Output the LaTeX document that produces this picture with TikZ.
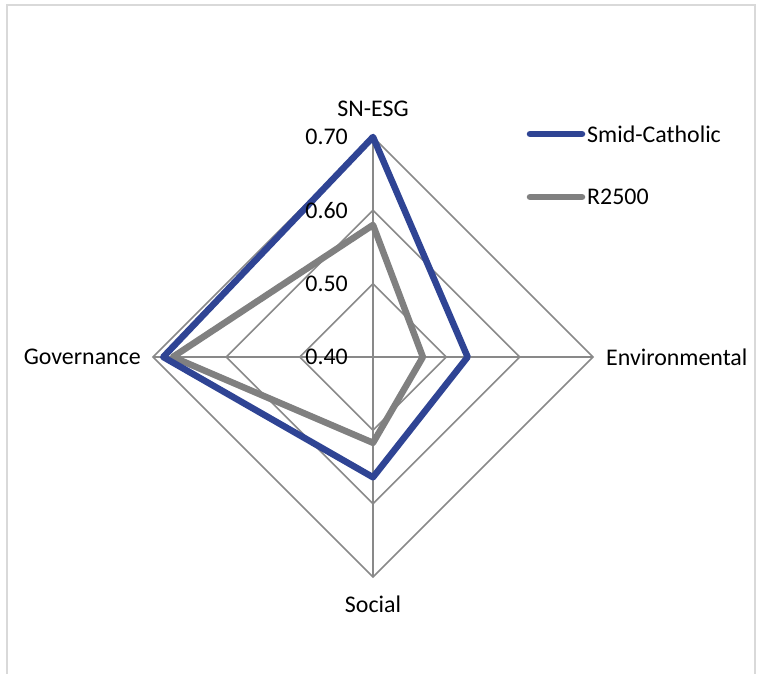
\documentclass[tikz,border=0pt]{standalone}
\usepackage{fontspec}
\setmainfont{Carlito}
\usetikzlibrary{calc}
\definecolor{gridc}{HTML}{898989}
\definecolor{framec}{HTML}{D9D9D9}
\definecolor{blueser}{HTML}{2F4494}
\definecolor{grayser}{HTML}{808080}
\begin{document}
\begin{tikzpicture}[x=1bp,y=-1bp,
  gridline/.style={draw=gridc,line width=1.6bp},
  serA/.style={draw=blueser,line width=6.5bp,line join=round,line cap=round},
  serB/.style={draw=grayser,line width=6.5bp,line join=round,line cap=round},
  lbl/.style={font=\fontsize{24}{26}\selectfont,text=black,inner sep=0pt},
  ]
\useasboundingbox (0,0) rectangle (762,674);
\fill[white] (0,0) rectangle (762,674);
% frame
\draw[framec,line width=2bp] (6.5,674) -- (6.5,4.7) -- (755,4.7) -- (755,674);
% centre and scale
\coordinate (O) at (373,357);
\def\R{220}
% grid rings
\foreach \v in {0.50,0.60,0.70}{
  \pgfmathsetmacro{\r}{(\v-0.4)/0.3*\R}
  \draw[gridline] ($(O)+(0,-\r)$) -- ($(O)+(\r,0)$) -- ($(O)+(0,\r)$) -- ($(O)+(-\r,0)$) -- cycle;
}
% axes
\coordinate (Ntop) at ($(O)+(0,-\R)$);
\coordinate (Nright) at ($(O)+(\R,0)$);
\coordinate (Nbot) at ($(O)+(0,\R)$);
\coordinate (Nleft) at ($(O)+(-\R,0)$);
\draw[gridline] (O) -- (Ntop);
\draw[gridline] (O) -- (Nright);
\draw[gridline] (O) -- (Nbot);
\draw[gridline] (O) -- (Nleft);
% series R2500
\pgfmathsetmacro{\bt}{(0.58-0.4)/0.3*\R}
\pgfmathsetmacro{\br}{(0.468-0.4)/0.3*\R}
\pgfmathsetmacro{\bb}{(0.517-0.4)/0.3*\R}
\pgfmathsetmacro{\bl}{(0.673-0.4)/0.3*\R}
\coordinate (b1) at ($(O)+(0,-\bt)$);
\coordinate (b2) at ($(O)+(\br,0)$);
\coordinate (b3) at ($(O)+(0,\bb)$);
\coordinate (b4) at ($(O)+(-\bl,0)$);
\draw[serB] (b1) -- (b2) -- (b3) -- (b4) -- cycle;
% series Smid-Catholic
\pgfmathsetmacro{\at}{(0.70-0.4)/0.3*\R}
\pgfmathsetmacro{\ar}{(0.529-0.4)/0.3*\R}
\pgfmathsetmacro{\ab}{(0.564-0.4)/0.3*\R}
\pgfmathsetmacro{\al}{(0.686-0.4)/0.3*\R}
\coordinate (a1) at ($(O)+(0,-\at)$);
\coordinate (a2) at ($(O)+(\ar,0)$);
\coordinate (a3) at ($(O)+(0,\ab)$);
\coordinate (a4) at ($(O)+(-\al,0)$);
\draw[serA] (a1) -- (a2) -- (a3) -- (a4) -- cycle;
% tick labels
\node[lbl,anchor=east] (t70) at (348,137) {0.70};
\node[lbl,anchor=east] (t60) at (348,211) {0.60};
\node[lbl,anchor=east] (t50) at (348,284) {0.50};
\node[lbl,anchor=east] (t40) at (348,357) {0.40};
% category labels
\node[lbl] (cN) at (373,109) {SN-ESG};
\node[lbl,anchor=west] (cE) at (606,357) {Environmental};
\node[lbl] (cS) at (373,604) {Social};
\node[lbl,anchor=east] (cW) at (141,357) {Governance};
% legend
\coordinate (la1) at (530,134);
\coordinate (la2) at (582,134);
\coordinate (lb1) at (530,197);
\coordinate (lb2) at (582,197);
\draw[serA] (la1) -- (la2);
\draw[serB] (lb1) -- (lb2);
\node[lbl,anchor=west] (lA) at (587,134) {Smid-Catholic};
\node[lbl,anchor=west] (lB) at (587,197) {R2500};
\end{tikzpicture}
\end{document}
